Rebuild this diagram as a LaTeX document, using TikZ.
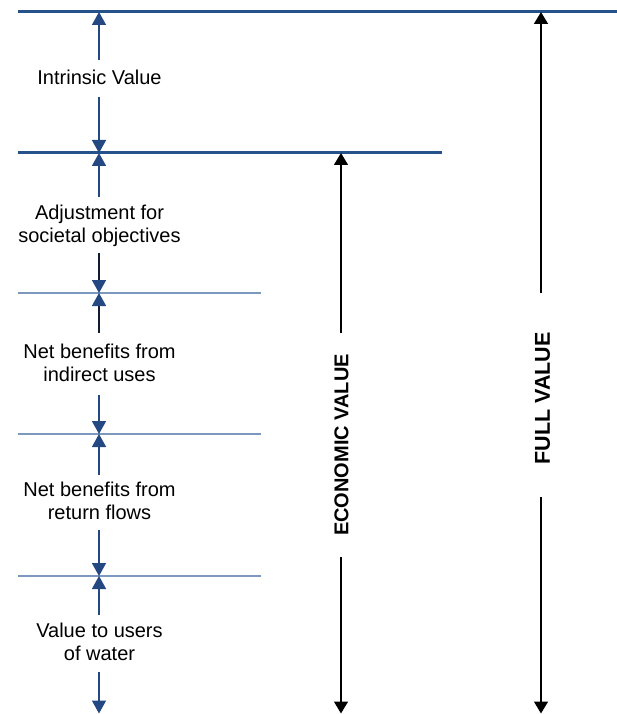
\documentclass[tikz,border=0pt]{standalone}
\usepackage{fontspec}
\setmainfont{Liberation Sans}
\usetikzlibrary{arrows.meta}

\definecolor{rulemain}{RGB}{38,82,140}
\definecolor{rulethin}{RGB}{125,152,190}
\definecolor{stemblue}{RGB}{36,72,130}
\definecolor{stemdark}{RGB}{18,28,48}

\tikzset{
  mainrule/.style={draw=rulemain, line width=3pt},
  thinrule/.style={draw=rulethin, line width=1.4pt},
  bluestem/.style={draw=stemblue, fill=stemblue, line width=1.5pt,
    -{Triangle[length=13pt,width=14pt]}},
  darkstem/.style={draw=stemdark, line width=1.5pt,
    -{Triangle[length=13pt,width=14pt,color=stemblue,fill=stemblue]}},
  totalarrow/.style={draw=black, line width=1.5pt,
    -{Triangle[length=12pt,width=14pt]}},
  partlabel/.style={inner sep=0pt, align=center,
    font=\fontsize{20}{23}\selectfont},
  totallabel/.style={inner sep=0pt, rotate=90,
    font=\fontsize{20}{24}\selectfont\bfseries}
}

\begin{document}
\begin{tikzpicture}[x=1pt,y=-1pt]
\useasboundingbox (0,0) rectangle (617,714);

% horizontal levels
\coordinate (l0a) at (18,12);   \coordinate (l0b) at (617,12);
\coordinate (l1a) at (18,153);  \coordinate (l1b) at (442,153);
\coordinate (l2a) at (18,293);  \coordinate (l2b) at (261,293);
\coordinate (l3a) at (18,434);  \coordinate (l3b) at (261,434);
\coordinate (l4a) at (18,576);  \coordinate (l4b) at (261,576);

\draw[mainrule] (l0a) -- (l0b);
\draw[mainrule] (l1a) -- (l1b);
\draw[thinrule] (l2a) -- (l2b);
\draw[thinrule] (l3a) -- (l3b);
\draw[thinrule] (l4a) -- (l4b);

% points where the dimension arrows meet the levels
\coordinate (m0) at (99,12);
\coordinate (m1) at (99,153);
\coordinate (m2) at (99,293);
\coordinate (m3) at (99,434);
\coordinate (m4) at (99,576);
\coordinate (m5) at (99,713.5);

% component labels
\node[partlabel] (intrinsic) at (99.5,77.7) {Intrinsic Value};
\node[partlabel] (societal) at (99.5,226.3) {Adjustment for\\societal objectives};
\node[partlabel] (indirect) at (99.5,362.7) {Net benefits from\\indirect uses};
\node[partlabel] (returnfl) at (99.5,501.2) {Net benefits from\\return flows};
\node[partlabel] (users) at (99.5,642.2) {Value to users\\of water};

% free ends of the arrow stems
\coordinate (s1u) at (99,60);   \coordinate (s1d) at (99,97);
\coordinate (s2u) at (99,197);  \coordinate (s2d) at (99,253);
\coordinate (s3u) at (99,333);  \coordinate (s3d) at (99,395);
\coordinate (s4u) at (99,475);  \coordinate (s4d) at (99,530);
\coordinate (s5u) at (99,615);  \coordinate (s5d) at (99,672);

\draw[bluestem] (s1u) -- (m0);
\draw[bluestem] (s1d) -- (m1);
\draw[bluestem] (s2u) -- (m1);
\draw[darkstem] (s2d) -- (m2);
\draw[darkstem] (s3u) -- (m2);
\draw[bluestem] (s3d) -- (m3);
\draw[bluestem] (s4u) -- (m3);
\draw[bluestem] (s4d) -- (m4);
\draw[bluestem] (s5u) -- (m4);
\draw[bluestem] (s5d) -- (m5);

% totals
\node[totallabel] (economic) at (341.5,445) {ECONOMIC VALUE};
\node[totallabel, font=\fontsize{21.5}{25}\selectfont\bfseries] (full) at (542.5,398.5) {FULL VALUE};

\coordinate (et) at (341,153);  \coordinate (eu) at (341,333);
\coordinate (el) at (341,557);  \coordinate (eb) at (341,713.5);
\coordinate (ft) at (541,12);   \coordinate (fu) at (541,293);
\coordinate (fl) at (541,497);  \coordinate (fb) at (541,713.5);

\draw[totalarrow] (eu) -- (et);
\draw[totalarrow] (el) -- (eb);
\draw[totalarrow] (fu) -- (ft);
\draw[totalarrow] (fl) -- (fb);
\end{tikzpicture}
\end{document}
